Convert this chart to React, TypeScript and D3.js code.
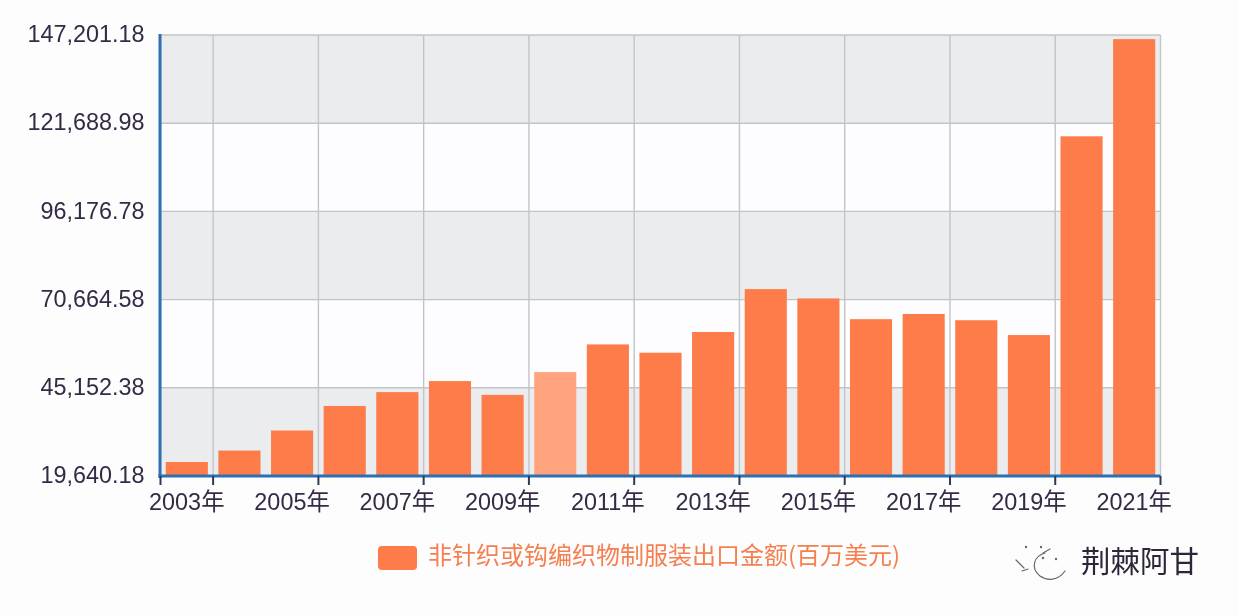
import React from "react";
import * as d3 from "d3";

const years = ["2003年","2004年","2005年","2006年","2007年","2008年","2009年","2010年","2011年","2012年","2013年","2014年","2015年","2016年","2017年","2018年","2019年","2020年","2021年"];
const values = [23690,27000,32800,39900,43900,47100,43100,49700,57700,55300,61300,73700,71000,65000,66500,64700,60400,117900,146000];
const yTicks = [19640.18,45152.38,70664.58,96176.78,121688.98,147201.18];
const highlighted = "2010年";
const legendLabel = "非针织或钩编织物制服装出口金额(百万美元)";
const watermark = "荆棘阿甘";

const W = 1238, H = 616;
const L = 160.5, R = 1160.5, T = 35, B = 476;
const FONT = "'Liberation Sans', 'Noto Sans CJK SC', sans-serif";
const CJK = "'Noto Sans CJK SC', 'Liberation Sans', sans-serif";

export default function App() {
  const x = d3.scaleBand<string>().domain(years).range([L, R]).paddingInner(0.2).paddingOuter(0.1);
  const step = x.step();
  const y = d3.scaleLinear().domain([yTicks[0], yTicks[yTicks.length - 1]]).range([B, T]);
  const fmt = d3.format(",.2f");
  const bandEdge = (i: number) => L + i * step;
  const splitIdx = d3.range(0, years.length, 2);
  const splits = [...splitIdx.map((i) => bandEdge(i === 0 ? 0 : i - 1)), R];
  const bands = d3.range(0, yTicks.length - 1);
  return (
    <svg width={W} height={H} viewBox={`0 0 ${W} ${H}`} style={{ position: "absolute", left: 0, top: 0, background: "#fdfdfe" }}>
      <defs>
        <filter id="soft" x="-2%" y="-2%" width="104%" height="104%">
          <feGaussianBlur stdDeviation="0.5" />
        </filter>
      </defs>
      <g filter="url(#soft)">
        {bands.map((i) => (
          <rect key={i} x={L} width={R - L} y={y(yTicks[i + 1])} height={y(yTicks[i]) - y(yTicks[i + 1])}
            fill={i % 2 === 0 ? "#ebecee" : "#fdfdff"} />
        ))}
        {yTicks.map((t) => (
          <line key={t} x1={L} x2={R} y1={y(t)} y2={y(t)} stroke="#c2c4c8" strokeWidth={1.4} />
        ))}
        {splits.map((sx, i) => (
          <line key={i} x1={sx} x2={sx} y1={T} y2={B} stroke="#c2c4c8" strokeWidth={1.4} />
        ))}
        {years.map((yr, i) => (
          <rect key={yr} x={x(yr)} width={x.bandwidth()} y={y(values[i])} height={B - 1 - y(values[i])}
            fill={yr === highlighted ? "#ffa47f" : "#fd7b48"} />
        ))}
        <line x1={L - 0.5} x2={L - 0.5} y1={T - 1} y2={B + 2} stroke="#2a70b3" strokeWidth={3} />
        <line x1={L - 2} x2={R} y1={B} y2={B} stroke="#2a70b3" strokeWidth={3} />
        {splits.map((sx, i) => (
          <line key={i} x1={sx} x2={sx} y1={B} y2={B + 9} stroke="#2b3a55" strokeWidth={2} />
        ))}
        {yTicks.map((t) => (
          <text key={t} x={144.5} y={y(t) + 1} textAnchor="end" dominantBaseline="middle" fontFamily={FONT} fontSize={23.4} fill="#352c45">
            {fmt(t)}
          </text>
        ))}
        {years.filter((_, i) => i % 2 === 0).map((yr) => (
          <text key={yr} x={x(yr)! + x.bandwidth() / 2} y={510} textAnchor="middle" fontFamily={FONT} fontSize={23.4} fill="#352c45">
            {yr}
          </text>
        ))}
        <rect x={378} y={546} width={39} height={24} rx={4} fill="#fd7b48" />
        <text x={428} y={564} fontFamily={CJK} fontSize={24} fill="#f57f50">{legendLabel}</text>
        <text x={1081} y={572} fontFamily={CJK} fontSize={29.5} fontWeight={400} fill="#2f2838">{watermark}</text>
        <g fill="none" stroke="#6b6570" strokeWidth={1.2} strokeLinecap="round">
          <path d="M1045 553 C1034 556 1030 568 1040 576 C1047 581 1058 581 1065 571" />
          <path d="M1016 560 L1024 568 M1022 571 L1028 569 M1043 553 L1050 549" />
        </g>
        <g fill="#6b6570">
          <circle cx={1026} cy={547} r={1.2} />
          <circle cx={1041} cy={547} r={1.2} />
          <circle cx={1043} cy={558} r={1.2} />
          <circle cx={1056} cy={559} r={1.2} />
        </g>
      </g>
    </svg>
  );
}
